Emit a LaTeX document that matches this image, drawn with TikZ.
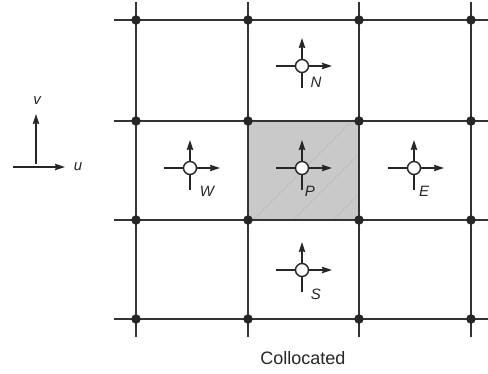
\documentclass[tikz,border=0pt]{standalone}
\usepackage{fontspec}
\setmainfont{Liberation Sans}
\usetikzlibrary{arrows.meta}
\begin{document}
\begin{tikzpicture}[x=1pt,y=-1pt,
  gridline/.style={line width=1.8pt,black!80},
  junction/.style={circle,fill=black!85,inner sep=0pt,minimum size=9.5pt},
  velarrow/.style={line width=1.1pt,black!85,-{Stealth[length=10pt,width=6.5pt,inset=1pt]}},
  velstem/.style={line width=1.1pt,black!85},
  nodept/.style={circle,draw=black!85,line width=1.4pt,fill=white,inner sep=0pt,minimum size=13pt},
  lbl/.style={font=\fontsize{15}{15}\selectfont\itshape,text=black!85,inner sep=0pt},
  cellfill/.style={fill=black!21}]
\useasboundingbox (0,0) rectangle (488,373);
% shaded cell
\fill[cellfill] (248,121) rectangle (359,220);
\begin{scope}
\clip (248,121) rectangle (359,220);
\foreach \d in {0,40,80,120} \draw[black!27,line width=0.5pt] (248+\d,225) -- (248+\d+110,115);
\end{scope}
% grid
\foreach \x/\n in {136/a,248/b,359/c,471/d}{
  \coordinate (vt\n) at (\x,2);
  \coordinate (vb\n) at (\x,337);
  \draw[gridline] (vt\n) -- (vb\n);
}
\foreach \y/\n in {20/a,121/b,220/c,319/d}{
  \coordinate (hl\n) at (114,\y);
  \coordinate (hr\n) at (488,\y);
  \draw[gridline] (hl\n) -- (hr\n);
}
\foreach \x/\i in {136/1,248/2,359/3,471/4}
  \foreach \y/\j in {20/1,121/2,220/3,319/4}
    \node[junction] (j\i\j) at (\x,\y) {};
% velocity nodes
\foreach \nm/\x/\y in {N/302/66, W/190/168, P/302/168, E/414/168, S/302/270}{
  \coordinate (\nm l) at (\x-26,\y);
  \coordinate (\nm r) at (\x+30,\y);
  \coordinate (\nm t) at (\x,\y-28);
  \coordinate (\nm b) at (\x,\y+22);
  \draw[velstem] (\nm l) -- (\x,\y);
  \draw[velstem] (\nm b) -- (\x,\y);
  \draw[velarrow] (\x,\y) -- (\nm r);
  \draw[velarrow] (\x,\y) -- (\nm t);
  \node[nodept] (\nm) at (\x,\y) {};
}
\node[lbl] (labN) at (316,82) {N};
\node[lbl] (labW) at (207,191) {W};
\node[lbl] (labP) at (310,191) {P};
\node[lbl] (labE) at (424,191) {E};
\node[lbl] (labS) at (316,294) {S};
% axes legend
\coordinate (ax0) at (36,164);
\coordinate (axv) at (36,114);
\coordinate (axl) at (13,167);
\coordinate (axu) at (65,167);
\draw[velarrow] (ax0) -- (axv);
\draw[velarrow] (axl) -- (axu);
\node[lbl] (labv) at (37,101) {v};
\node[lbl] (labu) at (78,167) {u};
% caption
\node[font=\fontsize{18}{18}\selectfont,text=black!85,inner sep=0pt] (cap) at (303,358) {Collocated};
\end{tikzpicture}
\end{document}
